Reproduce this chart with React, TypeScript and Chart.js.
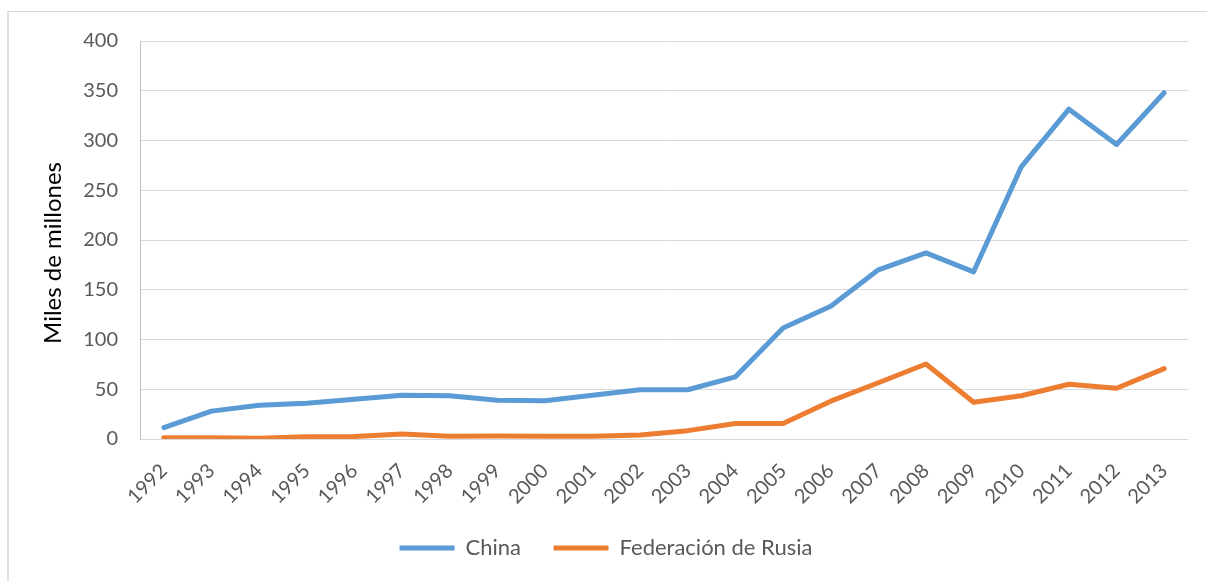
import React, { useEffect, useRef } from "react";
import { Chart, registerables } from "chart.js";

Chart.register(...registerables);

const years = [
  "1992", "1993", "1994", "1995", "1996", "1997", "1998", "1999", "2000", "2001", "2002",
  "2003", "2004", "2005", "2006", "2007", "2008", "2009", "2010", "2011", "2012", "2013",
];
const china = [11.5, 28, 34, 36, 40, 44, 43.5, 39, 38.5, 44, 49.5, 49.5, 62.5, 111.5, 133.5, 170, 187, 168, 273.5, 331.5, 296, 348];
const rusia = [1.3, 1.3, 0.7, 2.3, 2.5, 5, 2.7, 3, 2.7, 2.7, 4, 8.4, 15.5, 15.5, 38, 56.5, 75.4, 37, 43.5, 55, 51, 70.7];
const yTicks = [0, 50, 100, 150, 200, 250, 300, 350, 400];
const yTitle = "Miles de millones";

const FONT = "Lato, 'Liberation Sans', sans-serif";
const GRAY = "#595959";

const yTitlePlugin = {
  id: "yTitle",
  afterDraw(chart: any) {
    const { ctx, chartArea } = chart;
    ctx.save();
    ctx.translate(53, (chartArea.top + chartArea.bottom) / 2 + 13);
    ctx.rotate(-Math.PI / 2);
    ctx.font = `24px ${FONT}`;
    ctx.fillStyle = "#000000";
    ctx.textAlign = "center";
    ctx.textBaseline = "middle";
    ctx.fillText(yTitle, 0, 0);
    ctx.restore();
  },
};

export default function App() {
  const ref = useRef<HTMLCanvasElement | null>(null);
  useEffect(() => {
    if (!ref.current) return;
    const chart = new Chart(ref.current, {
      type: "line",
      data: {
        labels: years,
        datasets: [
          {
            label: "China",
            data: china,
            borderColor: "#5B9BD5",
            backgroundColor: "#5B9BD5",
            borderWidth: 5,
            borderCapStyle: "round",
            borderJoinStyle: "round",
            pointRadius: 0,
            pointStyle: "line",
            tension: 0,
          },
          {
            label: "Federación de Rusia",
            data: rusia,
            borderColor: "#ED7D31",
            backgroundColor: "#ED7D31",
            borderWidth: 5,
            borderCapStyle: "round",
            borderJoinStyle: "round",
            pointRadius: 0,
            pointStyle: "line",
            tension: 0,
          },
        ],
      },
      plugins: [yTitlePlugin],
      options: {
        animation: false,
        responsive: false,
        devicePixelRatio: 1,
        layout: { padding: { left: 24, right: 19, top: 41, bottom: 12 } },
        plugins: {
          tooltip: { enabled: false },
          legend: {
            position: "bottom",
            labels: {
              usePointStyle: true,
              pointStyleWidth: 55,
              boxHeight: 5,
              padding: 10,
              color: GRAY,
              font: { family: FONT, size: 22 },
              generateLabels: (c: any) => {
                const items = Chart.defaults.plugins.legend.labels.generateLabels(c);
                items.forEach((it: any, i: number) => {
                  if (i < items.length - 1) it.text = it.text + "\u00A0\u00A0\u00A0\u00A0";
                });
                return items;
              },
            },
          },
        },
        scales: {
          x: {
            offset: true,
            grid: { display: false },
            border: { display: false },
            ticks: {
              color: GRAY,
              font: { family: FONT, size: 20 },
              minRotation: 45,
              maxRotation: 45,
              autoSkip: false,
              padding: 12,
            },
            afterFit: (s: any) => {
              s.height = 88;
            },
          },
          y: {
            min: 0,
            max: 400,
            afterBuildTicks: (s: any) => {
              s.ticks = yTicks.map((v) => ({ value: v }));
            },
            grid: { color: "#D9D9D9", lineWidth: 1, drawTicks: false },
            border: { display: true, color: "#BFBFBF", width: 1 },
            ticks: {
              color: GRAY,
              font: { family: FONT, size: 20 },
              padding: 22,
            },
            title: { display: false },
            afterFit: (s: any) => {
              s.width = 116;
            },
          },
        },
      },
    });
    return () => chart.destroy();
  }, []);

  return (
    <div style={{ position: "fixed", left: 0, top: 0, width: 1207, height: 581, background: "#fff", overflow: "hidden" }}>
      <div
        style={{
          position: "absolute",
          left: 7,
          top: 11,
          width: 1400,
          height: 800,
          borderTop: "1px solid #D9D9D9",
          borderLeft: "2px solid #E0E0E0",
        }}
      />
      <canvas ref={ref} width={1207} height={581} style={{ position: "absolute", left: 0, top: 0, width: 1207, height: 581 }} />
    </div>
  );
}
